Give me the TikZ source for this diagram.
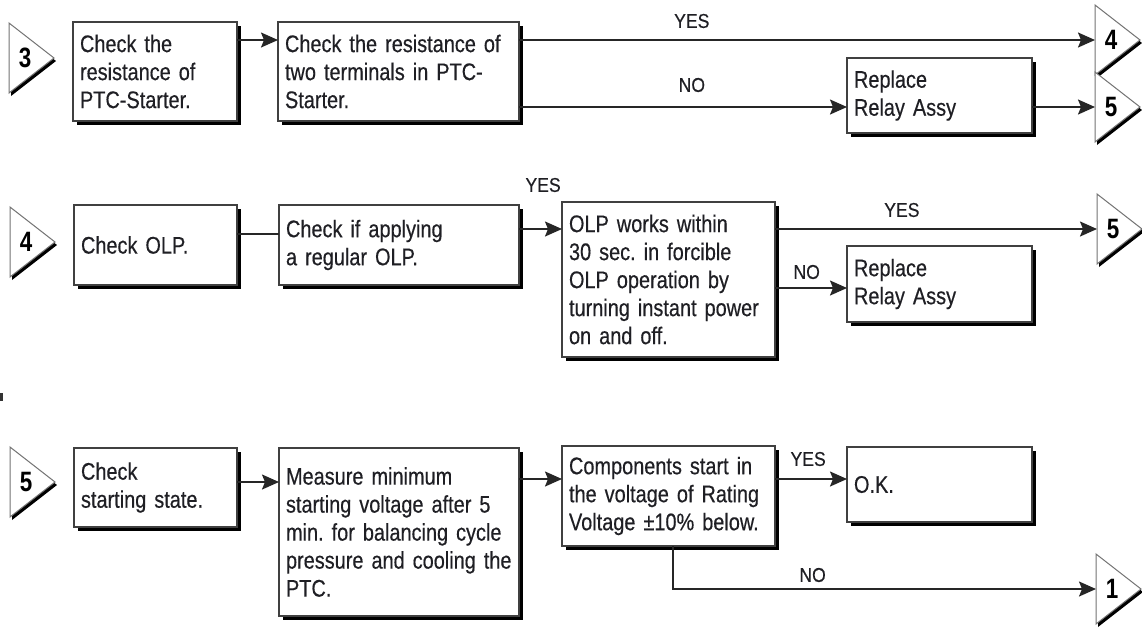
\documentclass[tikz,border=0pt]{standalone}
\usepackage{fontspec}
\setmainfont{Liberation Sans}[FakeStretch=0.83, WordSpace=0.7, FakeBold=0.4]
\newfontfamily\lblfont{Liberation Sans}[FakeStretch=0.88, FakeBold=0.4]
\newfontfamily\numfont{Liberation Sans}[FakeStretch=0.8]
\usetikzlibrary{arrows.meta,shadows,calc}
\definecolor{ink}{rgb}{0.12,0.12,0.14}
\frenchspacing

\tikzset{
  stepbox/.style={draw=black!75, line width=1.3pt, fill=white,
    general shadow={fill=black, shadow xshift=4pt, shadow yshift=-4pt},
    anchor=north west, align=left, inner xsep=7pt, inner ysep=0pt, outer sep=0pt,
    text=ink, font=\fontsize{24}{28}\selectfont},
  arr/.style={line width=1.8pt, draw=black!85, -{Stealth[length=17pt,width=15pt,inset=3pt]}},
  wire/.style={line width=1.8pt, draw=black!85},
  lbl/.style={text=ink, font=\lblfont\fontsize{20}{22}\selectfont, inner sep=0pt},
  num/.style={text=black, font=\numfont\bfseries\fontsize{28}{30}\selectfont, inner sep=0pt}
}

% off-page connector: name, left x, middle y, number
\newcommand\pagetri[4]{%
  \coordinate (#1) at (#2,#3);
  \fill[black] ([shift={(2,3)}]#1) ++(0,-35) -- ++(45,35) -- ++(-45,35) -- cycle;
  \filldraw[fill=white, draw=black!55, line width=1pt] (#1) ++(0,-35) -- ++(45,35) -- ++(-45,35) -- cycle;
  \node[num] (#1n) at ([xshift=16pt]#1) {#4};
}

\begin{document}
\begin{tikzpicture}[x=1pt,y=-1pt]
\useasboundingbox (0,0) rectangle (1142,630);

% ---------- first row ----------
\pagetri{t3}{9}{58}{3}
\pagetri{t4}{1095}{40}{4}
\pagetri{t5a}{1095}{107}{5}

\node[stepbox, minimum width=164pt, minimum height=99pt, text width=150pt] (b1) at (73,22)
  {Check the\\resistance of\\PTC-Starter.};
\node[stepbox, minimum width=241pt, minimum height=99pt, text width=227pt] (b2) at (278,22)
  {Check the resistance of\\two terminals in PTC-\\Starter.};
\node[stepbox, minimum width=185pt, minimum height=75pt, text width=171pt] (r1) at (847,58)
  {Replace\\Relay Assy};

\draw[arr] (b1.east |- t4) -- (b2.west |- t4);
\draw[arr] (b2.east |- t4) -- node[lbl, pos=.3, yshift=19pt] {YES} (t4);
\draw[arr] (b2.east |- t5a) -- node[lbl, pos=.527, yshift=22pt] {NO} (r1.west |- t5a);
\draw[arr] (r1.east |- t5a) -- (t5a);

% ---------- second row ----------
\pagetri{t4b}{10}{242}{4}
\pagetri{t5b}{1097}{229}{5}

\node[stepbox, minimum width=163pt, minimum height=80pt, text width=149pt] (c1) at (74,205)
  {Check OLP.};
\node[stepbox, minimum width=240pt, minimum height=80pt, text width=226pt] (c2) at (279,205)
  {Check if applying\\a regular OLP.};
\node[stepbox, minimum width=213pt, minimum height=155pt, text width=199pt] (o) at (562,202)
  {OLP works within\\30 sec. in forcible\\OLP operation by\\turning instant power\\on and off.};
\node[stepbox, minimum width=185pt, minimum height=76pt, text width=171pt] (r2) at (847,246)
  {Replace\\Relay Assy};

\coordinate (noB) at ([yshift=-4pt]r2.west);
\draw[wire] ([yshift=11pt]c1.east) -- ([yshift=11pt]c2.west);
\draw[arr] (c2.east |- t5b) -- node[lbl, pos=.56, yshift=44pt] {YES} (o.west |- t5b);
\draw[arr] (o.east |- t5b) -- node[lbl, pos=.394, yshift=19pt] {YES} (t5b);
\draw[arr] (o.east |- noB) -- node[lbl, pos=.44, yshift=16pt] {NO} (noB);

% ---------- third row ----------
\pagetri{t5c}{10}{482}{5}
\pagetri{t1}{1096}{589}{1}

\node[stepbox, minimum width=163pt, minimum height=79pt, text width=149pt] (d1) at (74,448)
  {Check\\starting state.};
\node[stepbox, minimum width=240pt, minimum height=168pt, text width=226pt] (d2) at (279,448)
  {Measure minimum\\starting voltage after 5\\min. for balancing cycle\\pressure and cooling the\\PTC.};
\node[stepbox, minimum width=213pt, minimum height=100pt, text width=199pt] (d3) at (562,446)
  {Components start in\\the voltage of Rating\\Voltage ±10\% below.};
\node[stepbox, minimum width=185pt, minimum height=75pt, text width=171pt] (d4) at (847,447)
  {O.K.};

\coordinate (laneA) at (0,482);
\coordinate (laneB) at (0,479);
\draw[arr] (d1.east |- laneA) -- (d2.west |- laneA);
\draw[arr] (d2.east |- laneB) -- (d3.west |- laneB);
\draw[arr] (d3.east |- laneB) -- node[lbl, pos=.46, yshift=20pt] {YES} (d4.west |- laneB);
\draw[arr] ([xshift=4.5pt]d3.south) |- node[lbl, pos=.665, yshift=14pt] {NO} (t1);

% small mark at the left margin
\fill[black!80] (0,393) rectangle (3,401);
\end{tikzpicture}
\end{document}
